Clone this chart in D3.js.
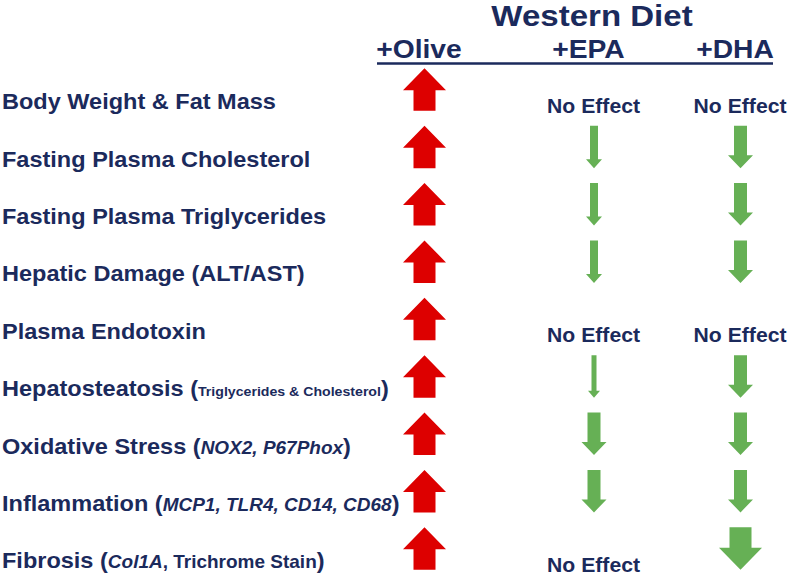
<!DOCTYPE html>
<html>
<head>
<meta charset="utf-8">
<script src="https://cdn.jsdelivr.net/npm/d3@7"></script>
<style>
  html, body { margin: 0; padding: 0; background: #ffffff; }
  svg { display: block; }
  text { font-family: "Liberation Sans", Arial, sans-serif; font-weight: bold; }
</style>
</head>
<body>
<svg id="chart" width="789" height="575"></svg>
<script>
// ---------------- DATA ----------------
const title = "Western Diet";
const groups = ["+Olive", "+EPA", "+DHA"];

// label segments: [text, kind]  kind: "m" main, "i" italic detail, "d" detail, "s" small detail
const outcomes = [
  [["Body Weight & Fat Mass", "m"]],
  [["Fasting Plasma Cholesterol", "m"]],
  [["Fasting Plasma Triglycerides", "m"]],
  [["Hepatic Damage (ALT/AST)", "m"]],
  [["Plasma Endotoxin", "m"]],
  [["Hepatosteatosis (", "m"], ["Triglycerides & Cholesterol", "s"], [")", "m"]],
  [["Oxidative Stress (", "m"], ["NOX2, P67Phox", "i"], [")", "m"]],
  [["Inflammation (", "m"], ["MCP1, TLR4, CD14, CD68", "i"], [")", "m"]],
  [["Fibrosis (", "m"], ["Col1A", "i"], [", Trichrome Stain", "d"], [")", "m"]]
];

// effect magnitude (0 = no effect), direction: +1 increase, -1 decrease
const oliveEffect = [4, 4, 4, 4, 4, 4, 4, 4, 4];
const epaEffect   = [0, 2, 2, 2, 0, 1, 3, 3, 0];
const dhaEffect   = [0, 3, 3, 3, 0, 3, 3, 3, 4];
const direction   = { "+Olive": 1, "+EPA": -1, "+DHA": -1 };
const noEffectText = "No Effect";

// ---------------- LAYOUT ----------------
const navy = "#1b2a5c", red = "#dd0000", green = "#66b055";
const svg = d3.select("#chart");

const y = d3.scalePoint().domain(d3.range(outcomes.length)).range([109.3, 568.3]);
const x = d3.scaleOrdinal().domain(groups).range([424.5, 594, 740.5]);

const shaftW = d3.scaleOrdinal().domain([1, 2, 3, 4]).range([5, 8, 13, 22]);
const headW  = d3.scaleOrdinal().domain([1, 2, 3, 4]).range([12, 16, 25, 43]);
const headH  = d3.scaleOrdinal().domain([1, 2, 3, 4]).range([7, 9, 13, 22]);
const arrowLen = 42.5;

// title
svg.append("text")
  .attr("transform", "translate(592,26) scale(1.12,1)")
  .attr("text-anchor", "middle")
  .attr("font-size", 29.5)
  .attr("fill", navy)
  .text(title);

// column headers
svg.selectAll("text.grp").data(groups).join("text")
  .attr("class", "grp")
  .attr("transform", d => `translate(${x(d) - 5.5},58) scale(1.13,1)`)
  .attr("text-anchor", "middle")
  .attr("font-size", 25)
  .attr("fill", navy)
  .text(d => d);

svg.append("line")
  .attr("x1", 377).attr("x2", 773)
  .attr("y1", 63.5).attr("y2", 63.5)
  .attr("stroke", navy).attr("stroke-width", 2.5);

// row labels
const sizeFor = { m: 22.3, i: 18, d: 18, s: 13.4 };
outcomes.forEach((segs, i) => {
  const t = svg.append("text")
    .attr("transform", `translate(2,${y(i)}) scale(1.055,1)`)
    .attr("fill", navy);
  segs.forEach(([txt, kind]) => {
    t.append("tspan")
      .attr("font-size", sizeFor[kind])
      .attr("font-style", kind === "i" ? "italic" : "normal")
      .text(txt);
  });
});

// arrows / no effect
function arrowPath(cx, base, mag, dir) {
  const sw = shaftW(mag) / 2, hw = headW(mag) / 2, hh = headH(mag);
  const bottom = base + 1.5, top = bottom - arrowLen;
  let pts;
  if (dir < 0) {
    pts = [[cx - sw, top], [cx + sw, top], [cx + sw, bottom - hh], [cx + hw, bottom - hh],
           [cx, bottom], [cx - hw, bottom - hh], [cx - sw, bottom - hh]];
  } else {
    pts = [[cx - sw, bottom], [cx + sw, bottom], [cx + sw, top + hh], [cx + hw, top + hh],
           [cx, top], [cx - hw, top + hh], [cx - sw, top + hh]];
  }
  return d3.line()(pts) + "Z";
}

const effects = { "+Olive": oliveEffect, "+EPA": epaEffect, "+DHA": dhaEffect };
groups.forEach(g => {
  const vals = effects[g];
  const cells = vals.map((v, i) => ({ v, i }));
  svg.selectAll(null).data(cells.filter(c => c.v > 0)).join("path")
    .attr("d", c => arrowPath(x(g), y(c.i), c.v, direction[g]))
    .attr("fill", direction[g] > 0 ? red : green);
  svg.selectAll(null).data(cells.filter(c => c.v === 0)).join("text")
    .attr("transform", c => `translate(${x(g) - 0.5},${y(c.i) + 3.5}) scale(1.06,1)`)
    .attr("text-anchor", "middle")
    .attr("font-size", 20)
    .attr("fill", navy)
    .text(noEffectText);
});
</script>
</body>
</html>
